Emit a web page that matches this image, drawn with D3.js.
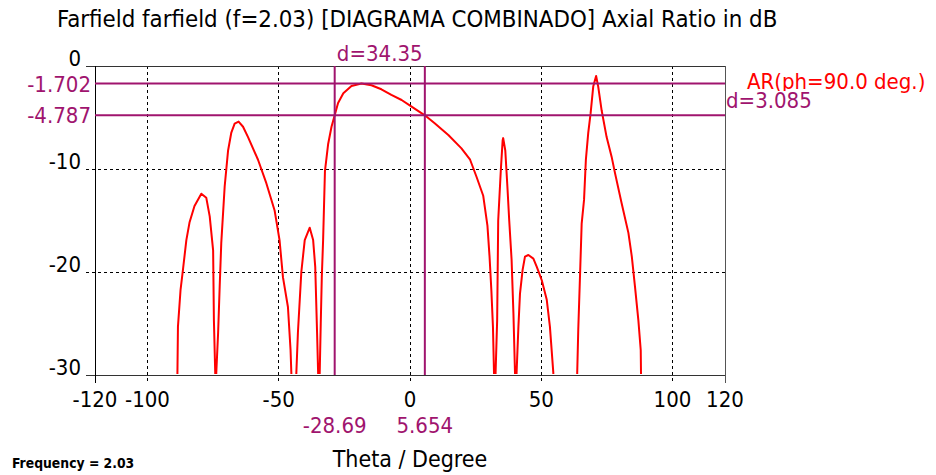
<!DOCTYPE html>
<html>
<head>
<meta charset="utf-8">
<script src="https://cdn.jsdelivr.net/npm/d3@7"></script>
<style>
  html, body { margin: 0; padding: 0; background: #fff; }
  svg { display: block; }
  text { font-family: "DejaVu Sans Condensed", "DejaVu Sans", sans-serif; font-stretch: condensed; }
</style>
</head>
<body>
<svg id="chart" width="936" height="475"></svg>
<script>
// ---- data ----
const titleText = "Farfield farfield (f=2.03) [DIAGRAMA COMBINADO] Axial Ratio in dB";
const xAxisTitle = "Theta / Degree";
const footerText = "Frequency = 2.03";
const legendText = "AR(ph=90.0 deg.)";

const xTicks = [-120, -100, -50, 0, 50, 100, 120];
const xGrid = [-100, -50, 0, 50, 100];
const yTicks = [0, -10, -20, -30];
const yGrid = [-10, -20];

const markerTheta = [-28.69, 5.654];
const markerThetaLabels = ["-28.69", "5.654"];
const markerDb = [-1.702, -4.787];
const markerDbLabels = ["-1.702", "-4.787"];
const deltaThetaLabel = "d=34.35";
const deltaDbLabel = "d=3.085";

const theta = [
  -89.0, -88.6, -88.4, -87.4, -86.5, -85.2, -84.0, -82.1, -79.5, -77.6, -76.3, -75.0, -74.7, -74.2,
  -74.0, -73.8, -73.1, -72.5, -71.9, -70.6, -69.3, -68.1, -66.8, -65.3, -63.6, -61.7, -57.9, -54.7,
  -51.6, -49.7, -48.4, -46.5, -45.5, -45.2,
  -44.3, -43.3, -42.7, -41.4, -40.1, -38.2, -36.9, -36.1, -35.4, -35.0,
  -34.7, -34.4, -34.0, -33.6, -33.1, -32.4, -31.2, -29.9, -28.69, -27.4, -25.4, -22.3, -18.5, -14.7,
  -10.9, -7.1, -3.2, 0.6, 5.654, 9.4, 14.6, 19.6, 22.9, 25.4, 27.9, 29.5, 30.3, 31.0, 31.6, 32.0,
  32.3, 32.6, 33.2, 33.6, 34.6, 35.3, 35.5, 36.3, 37.1, 37.8, 38.7, 39.4, 40.0,
  40.3, 40.6, 41.3, 41.9, 42.9, 43.8, 45.1, 47.0, 48.3, 50.2, 52.1, 53.3, 54.6,
  55.0, 63.3, 63.7, 64.1, 64.8, 65.4, 66.3, 67.0, 67.9, 68.8, 69.8, 70.9, 71.7, 73.0, 74.9, 76.8,
  78.1, 80.6, 83.2, 84.5, 85.7, 87.0, 87.9, 88.0, 88.3
];
const arDb = [
  -40, -29.8, -25.3, -21.7, -19.8, -16.9, -15.2, -13.6, -12.4, -12.8, -14.6, -17.9, -24.7, -29.8,
  -40, -29.8, -25.9, -21.4, -17.2, -11.7, -8.2, -6.5, -5.6, -5.4, -5.9, -6.9, -9.1, -11.4,
  -14.0, -16.9, -20.5, -23.4, -27.6, -29.8,
  -40, -29.8, -25.9, -20.0, -16.9, -15.7, -16.9, -19.5, -25.9, -29.8,
  -40, -29.8, -25.0, -20.5, -16.9, -10.2, -7.6, -5.9, -4.787, -3.6, -2.65, -1.94, -1.702, -1.87,
  -2.26, -2.8, -3.3, -3.95, -4.787, -5.56, -6.7, -8.0, -9.1, -10.8, -12.6, -15.5, -18.5, -21.8, -25.3, -29.8,
  -40, -29.8, -24.7, -15.0, -10.1, -7.2, -7.0, -8.2, -11.7, -15.0, -18.8, -24.0, -29.8,
  -40, -29.8, -25.3, -22.1, -19.8, -18.5, -18.35, -18.7, -19.5, -20.8, -22.7, -25.3, -29.8,
  -40, -40, -29.8, -25.6, -20.1, -15.3, -13.0, -9.1, -6.5, -4.6, -2.0, -0.97, -2.0, -4.3, -6.9, -8.8,
  -10.4, -13.3, -16.2, -18.5, -21.4, -24.7, -27.6, -29.8, -40
];

// ---- layout ----
const svg = d3.select("#chart");
const x = d3.scaleLinear().domain([-120, 120]).range([95, 725]);
const y = d3.scaleLinear().domain([-30, 0]).range([375, 66]);
const purple = "#a0146e";
const x0 = x(-120), x1 = x(120), yTop = y(0), yBot = y(-30);

// title
svg.append("text").attr("x", 57).attr("y", 27)
  .attr("font-size", 23.8).attr("fill", "#000").text(titleText);

// dashed grid
svg.selectAll(".gx").data(xGrid).enter().append("line")
  .attr("x1", d => x(d)).attr("x2", d => x(d))
  .attr("y1", yTop).attr("y2", yBot + 8)
  .attr("stroke", "#000").attr("stroke-width", 1).attr("stroke-dasharray", "3,3")
  .attr("shape-rendering", "crispEdges");
svg.selectAll(".gy").data(yGrid).enter().append("line")
  .attr("x1", x0 - 9).attr("x2", x1)
  .attr("y1", d => y(d)).attr("y2", d => y(d))
  .attr("stroke", "#000").attr("stroke-width", 1).attr("stroke-dasharray", "3,3")
  .attr("shape-rendering", "crispEdges");

// frame
const frame = svg.append("g").attr("shape-rendering", "crispEdges");
frame.append("line").attr("x1", x0 - 9).attr("x2", x1).attr("y1", yTop).attr("y2", yTop).attr("stroke", "#333");
frame.append("line").attr("x1", x0 - 9).attr("x2", x1).attr("y1", yBot).attr("y2", yBot).attr("stroke", "#333");
frame.append("line").attr("x1", x0).attr("x2", x0).attr("y1", yTop).attr("y2", yBot + 8).attr("stroke", "#000");
frame.append("line").attr("x1", x1).attr("x2", x1).attr("y1", yTop).attr("y2", yBot + 8).attr("stroke", "#555");

// tick labels
svg.selectAll(".xt").data(xTicks).enter().append("text")
  .attr("x", d => x(d)).attr("y", 407).attr("text-anchor", "middle")
  .attr("font-size", 22).attr("fill", "#000").text(d => d);
svg.selectAll(".yt").data(yTicks).enter().append("text")
  .attr("x", 81).attr("y", d => y(d)).attr("text-anchor", "end")
  .attr("font-size", 22).attr("fill", "#000").text(d => d);

// clip for curve
svg.append("clipPath").attr("id", "plotclip").append("rect")
  .attr("x", x0).attr("y", yTop).attr("width", x1 - x0).attr("height", yBot - yTop - 1);

const pts = theta.map((t, i) => [t, arDb[i]]);
svg.append("path").datum(pts)
  .attr("clip-path", "url(#plotclip)")
  .attr("d", d3.line().x(d => x(d[0])).y(d => y(d[1])))
  .attr("fill", "none").attr("stroke", "#ff0000").attr("stroke-width", 2)
  .attr("stroke-linejoin", "round");

// markers
svg.selectAll(".mh").data(markerDb).enter().append("line")
  .attr("x1", x0).attr("x2", x1).attr("y1", d => y(d)).attr("y2", d => y(d))
  .attr("stroke", purple).attr("stroke-width", 2);
svg.selectAll(".mv").data(markerTheta).enter().append("line")
  .attr("x1", d => x(d)).attr("x2", d => x(d)).attr("y1", yTop).attr("y2", yBot)
  .attr("stroke", purple).attr("stroke-width", 2);

svg.selectAll(".mhl").data(markerDb).enter().append("text")
  .attr("x", 91).attr("y", d => y(d) + 8).attr("text-anchor", "end")
  .attr("font-size", 22).attr("fill", purple).text((d, i) => markerDbLabels[i]);
svg.selectAll(".mvl").data(markerTheta).enter().append("text")
  .attr("x", d => x(d)).attr("y", 433).attr("text-anchor", "middle")
  .attr("font-size", 22).attr("fill", purple).text((d, i) => markerThetaLabels[i]);

svg.append("text")
  .attr("x", (x(markerTheta[0]) + x(markerTheta[1])) / 2).attr("y", 61)
  .attr("text-anchor", "middle").attr("font-size", 22).attr("fill", purple).text(deltaThetaLabel);

// legend (partially covered by the delta label box)
svg.append("text").attr("x", 747).attr("y", 89)
  .attr("font-size", 22).attr("fill", "#ff0000").text(legendText);
svg.append("rect").attr("x", x1 + 1).attr("y", 91).attr("width", 80).attr("height", 20).attr("fill", "#fff");
svg.append("text").attr("x", 726).attr("y", 108)
  .attr("font-size", 22).attr("fill", purple).text(deltaDbLabel);

// axis title & footer
svg.append("text").attr("x", 410).attr("y", 467).attr("text-anchor", "middle")
  .attr("font-size", 23).attr("fill", "#000").text(xAxisTitle);
svg.append("text").attr("x", 12).attr("y", 468)
  .attr("font-size", 13.8).attr("font-weight", "bold").attr("fill", "#000").text(footerText);
</script>
</body>
</html>
